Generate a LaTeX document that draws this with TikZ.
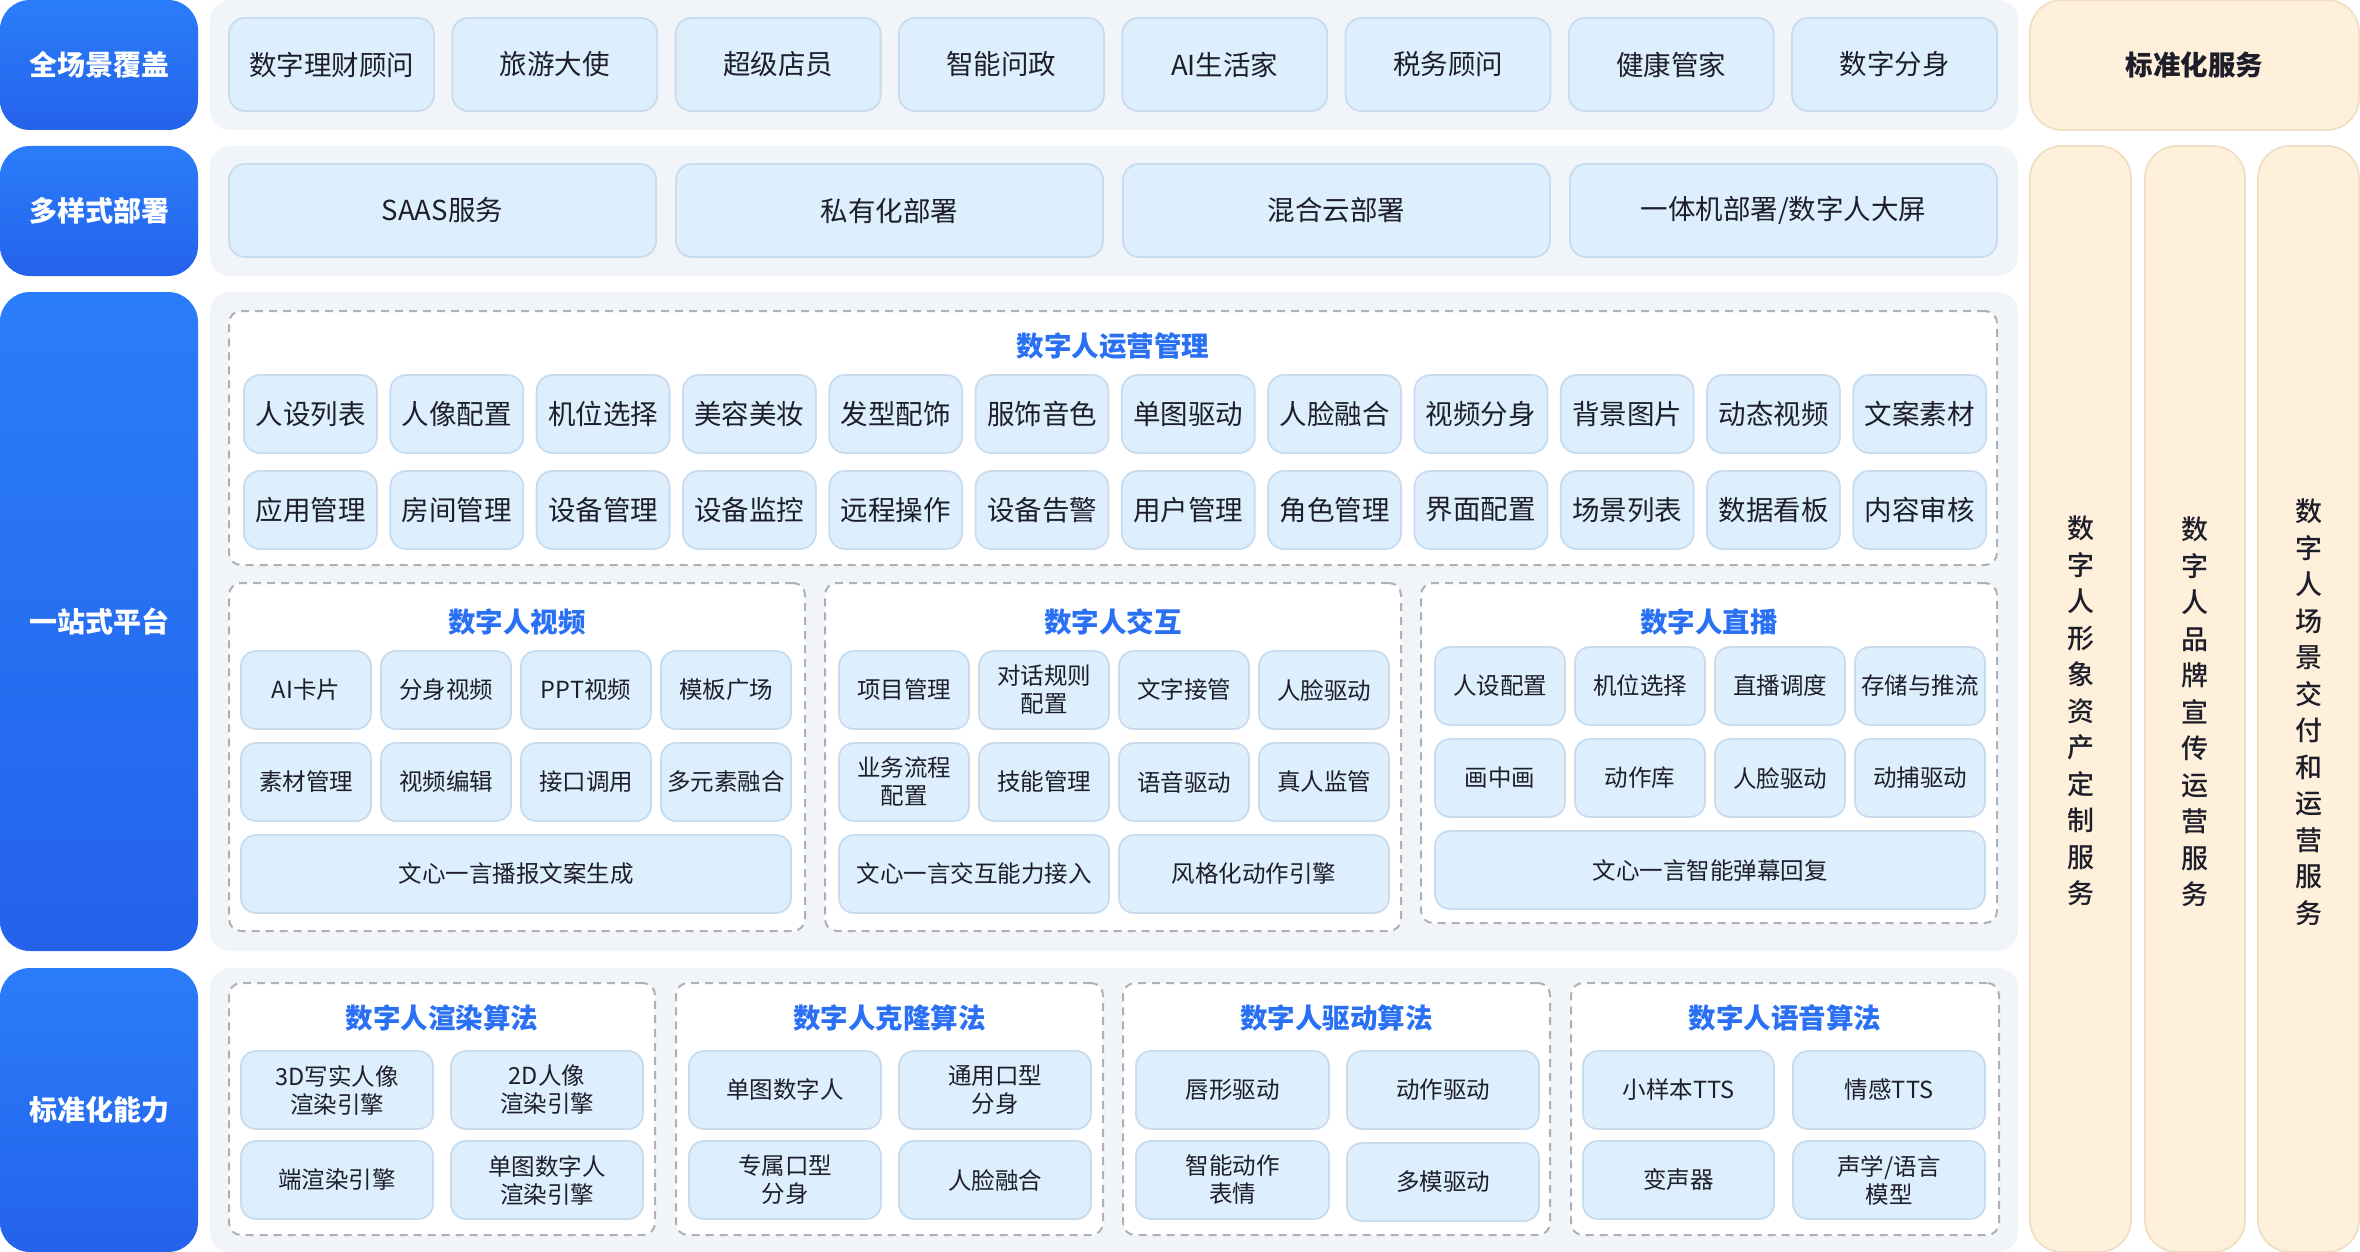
\documentclass[tikz,border=0pt]{standalone}
\usepackage{fontspec}
\setmainfont{Noto Sans CJK SC}
\IfFontExistsTF{Noto Sans CJK SC Medium}
  {\newfontfamily\medfont{Noto Sans CJK SC Medium}}
  {\newcommand\medfont{\bfseries}}
\definecolor{lblA}{HTML}{2A7DFA}
\definecolor{lblB}{HTML}{2462EA}
\definecolor{bggray}{HTML}{F1F5FA}
\definecolor{itemfill}{HTML}{DDEEFD}
\definecolor{itemline}{HTML}{C9DCEE}
\definecolor{orfill}{HTML}{FEF0DB}
\definecolor{orline}{HTML}{F0DFC4}
\definecolor{ttlblue}{HTML}{2970F4}
\definecolor{txt}{HTML}{1E1E2A}
\definecolor{dashc}{HTML}{B0B0B4}
\newcommand\boxat[7]{\node[#1, minimum width={(#5)-(#3)}, minimum height={(#6)-(#4)}] (#2) at ({((#3)+(#5))/2},{((#4)+(#6))/2}) {#7};}
\tikzset{
  base/.style={inner sep=0pt, outer sep=0pt, align=center},
  lbl/.style={base, top color=lblA, bottom color=lblB, rounded corners=30pt, text=white, font=\bfseries\fontsize{28}{34}\selectfont},
  bgbox/.style={base, fill=bggray, rounded corners=20pt},
  orbox/.style={base, fill=orfill, draw=orline, line width=1.8pt, rounded corners=32pt, text=txt, font=\bfseries\fontsize{27.5}{36}\selectfont},
  dbox/.style={base, fill=white, draw=dashc, line width=2pt, dash pattern=on 8pt off 6pt, rounded corners=12pt},
  item/.style={base, fill=itemfill, draw=itemline, line width=1.8pt, rounded corners=16pt, text=txt, font=\fontsize{27.5}{33}\selectfont},
  sitem/.style={item, rounded corners=15pt, font=\fontsize{23.5}{28}\selectfont},
  ttl/.style={base, text=ttlblue, font=\bfseries\fontsize{27.5}{33}\selectfont},
  vtxt/.style={base, text=txt, font=\medfont\fontsize{27}{36.5}\selectfont},
}
\begin{document}
\begin{tikzpicture}[x=1pt,y=-1pt]
\useasboundingbox (0,0) rectangle (2360,1252);
% ---- left labels
\boxat{lbl}{L1}{0}{0}{198}{130}{全场景覆盖}
\boxat{lbl}{L2}{0}{146}{198}{276}{多样式部署}
\boxat{lbl}{L3}{0}{292}{198}{951}{一站式平台}
\boxat{lbl}{L4}{0}{968}{198}{1252}{标准化能力}
% ---- grey backgrounds
\boxat{bgbox}{B1}{210}{0}{2018}{130}{}
\boxat{bgbox}{B2}{210}{146}{2018}{276}{}
\boxat{bgbox}{B3}{210}{292}{2018}{951}{}
\boxat{bgbox}{B4}{210}{968}{2018}{1252}{}
% ---- right orange
\boxat{orbox}{R0}{2030}{0}{2359}{130}{标准化服务}
\boxat{orbox}{R1}{2030}{146}{2131}{1252}{}
\boxat{orbox}{R2}{2145}{146}{2245}{1252}{}
\boxat{orbox}{R3}{2258}{146}{2359}{1252}{}
\node[vtxt] (V1) at (2080.5,711) {数\\字\\人\\形\\象\\资\\产\\定\\制\\服\\务};
\node[vtxt] (V2) at (2195,712) {数\\字\\人\\品\\牌\\宣\\传\\运\\营\\服\\务};
\node[vtxt] (V3) at (2308.5,712) {数\\字\\人\\场\\景\\交\\付\\和\\运\\营\\服\\务};
% ---- row 1
\foreach \t [count=\i from 0] in {数字理财顾问,旅游大使,超级店员,智能问政,AI生活家,税务顾问,健康管家,数字分身}{
  \pgfmathsetmacro\xa{229+\i*223.3}
  \boxat{item}{s\i}{\xa}{18}{\xa+205}{111}{\t}
}
% ---- row 2
\foreach \t [count=\i from 0] in {SAAS服务,私有化部署,混合云部署,一体机部署/数字人大屏}{
  \pgfmathsetmacro\xa{229+\i*447}
  \boxat{item}{d\i}{\xa}{164}{\xa+427}{257}{\t}
}
% ---- row 3: operations management
\boxat{dbox}{OPS}{229}{311}{1997}{565}{}
\node[ttl] (OPST) at (1113,346) {数字人运营管理};
\foreach \t [count=\i from 0] in {人设列表,人像配置,机位选择,美容美妆,发型配饰,服饰音色,单图驱动,人脸融合,视频分身,背景图片,动态视频,文案素材}{
  \pgfmathsetmacro\xa{244+\i*146.3}
  \boxat{item}{oa\i}{\xa}{375}{\xa+133}{453}{\t}
}
\foreach \t [count=\i from 0] in {应用管理,房间管理,设备管理,设备监控,远程操作,设备告警,用户管理,角色管理,界面配置,场景列表,数据看板,内容审核}{
  \pgfmathsetmacro\xa{244+\i*146.3}
  \boxat{item}{ob\i}{\xa}{471}{\xa+133}{549}{\t}
}
% ---- video
\boxat{dbox}{VID}{229}{583}{805}{931}{}
\node[ttl] (VIDT) at (517,622) {数字人视频};
\foreach \t [count=\i from 0] in {AI卡片,分身视频,PPT视频,模板广场}{
  \pgfmathsetmacro\xa{241+\i*140}
  \boxat{sitem}{va\i}{\xa}{651}{\xa+130}{729}{\t}
}
\foreach \t [count=\i from 0] in {素材管理,视频编辑,接口调用,多元素融合}{
  \pgfmathsetmacro\xa{241+\i*140}
  \boxat{sitem}{vb\i}{\xa}{743}{\xa+130}{821}{\t}
}
\boxat{sitem}{vc}{241}{835}{791}{913}{文心一言播报文案生成}
% ---- interaction
\boxat{dbox}{INT}{825}{583}{1401}{931}{}
\node[ttl] (INTT) at (1113,622) {数字人交互};
\foreach \t [count=\i from 0] in {项目管理,对话规则\\配置,文字接管,人脸驱动}{
  \pgfmathsetmacro\xa{839+\i*140}
  \boxat{sitem}{ia\i}{\xa}{651}{\xa+130}{729}{\t}
}
\foreach \t [count=\i from 0] in {业务流程\\配置,技能管理,语音驱动,真人监管}{
  \pgfmathsetmacro\xa{839+\i*140}
  \boxat{sitem}{ib\i}{\xa}{743}{\xa+130}{821}{\t}
}
\boxat{sitem}{ic0}{839}{835}{1109}{913}{文心一言交互能力接入}
\boxat{sitem}{ic1}{1119}{835}{1389}{913}{风格化动作引擎}
% ---- live
\boxat{dbox}{LIV}{1421}{583}{1997}{923}{}
\node[ttl] (LIVT) at (1709,622) {数字人直播};
\foreach \t [count=\i from 0] in {人设配置,机位选择,直播调度,存储与推流}{
  \pgfmathsetmacro\xa{1435+\i*140}
  \boxat{sitem}{la\i}{\xa}{647}{\xa+130}{725}{\t}
}
\foreach \t [count=\i from 0] in {画中画,动作库,人脸驱动,动捕驱动}{
  \pgfmathsetmacro\xa{1435+\i*140}
  \boxat{sitem}{lb\i}{\xa}{739}{\xa+130}{817}{\t}
}
\boxat{sitem}{lc}{1435}{831}{1985}{909}{文心一言智能弹幕回复}
% ---- row 4: algorithms
\boxat{dbox}{A1}{229}{983}{655}{1235}{}
\node[ttl] (A1T) at (442,1018) {数字人渲染算法};
\boxat{sitem}{a1a}{241}{1051}{433}{1129}{3D写实人像\\渲染引擎}
\boxat{sitem}{a1b}{451}{1051}{643}{1129}{2D人像\\渲染引擎}
\boxat{sitem}{a1c}{241}{1141}{433}{1219}{端渲染引擎}
\boxat{sitem}{a1d}{451}{1141}{643}{1219}{单图数字人\\渲染引擎}
\boxat{dbox}{A2}{676}{983}{1103}{1235}{}
\node[ttl] (A2T) at (889.5,1018) {数字人克隆算法};
\boxat{sitem}{a2a}{689}{1051}{881}{1129}{单图数字人}
\boxat{sitem}{a2b}{899}{1051}{1091}{1129}{通用口型\\分身}
\boxat{sitem}{a2c}{689}{1141}{881}{1219}{专属口型\\分身}
\boxat{sitem}{a2d}{899}{1141}{1091}{1219}{人脸融合}
\boxat{dbox}{A3}{1123}{983}{1550}{1235}{}
\node[ttl] (A3T) at (1336.5,1018) {数字人驱动算法};
\boxat{sitem}{a3a}{1136}{1051}{1329}{1129}{唇形驱动}
\boxat{sitem}{a3b}{1347}{1051}{1539}{1129}{动作驱动}
\boxat{sitem}{a3c}{1136}{1141}{1329}{1219}{智能动作\\表情}
\boxat{sitem}{a3d}{1347}{1143}{1539}{1221}{多模驱动}
\boxat{dbox}{A4}{1571}{983}{1999}{1235}{}
\node[ttl] (A4T) at (1785,1018) {数字人语音算法};
\boxat{sitem}{a4a}{1583}{1051}{1774}{1129}{小样本TTS}
\boxat{sitem}{a4b}{1793}{1051}{1985}{1129}{情感TTS}
\boxat{sitem}{a4c}{1583}{1141}{1774}{1219}{变声器}
\boxat{sitem}{a4d}{1793}{1141}{1985}{1219}{声学/语言\\模型}
\end{tikzpicture}
\end{document}
